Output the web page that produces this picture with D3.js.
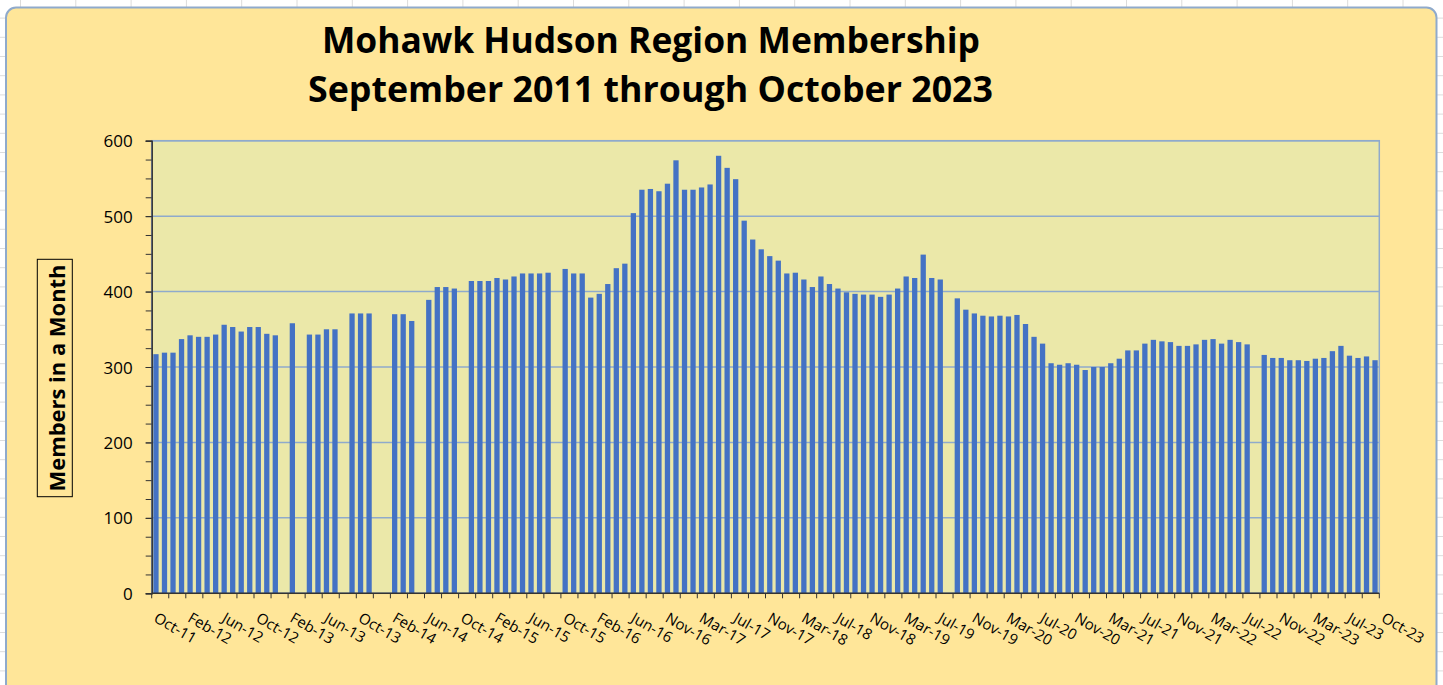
<!DOCTYPE html>
<meta charset="utf-8">
<style>
body, html {
  margin: 0;
  padding: 0;
  background: #fff;
}
text {
  font-family: "Open Sans", "Liberation Sans", sans-serif;
  fill: #000;
}
.title {
  font-weight: 700;
  font-size: 36px;
  text-anchor: middle;
}
.tick-y {
  font-size: 17px;
}
.tick-x {
  font-size: 15px;
}
</style>
<div id="chart"></div>
<script src="https://d3js.org/d3.v7.min.js"></script>
<script>
// monthly membership, one bar per category (null = month with no figure)
const members = [
  317, 319, 319, 337, 342, 340, 340, 343, 356, 353,
  347, 353, 353, 344, 342, null, 358, null, 343, 343,
  350, 350, null, 371, 371, 371, null, null, 370, 370,
  361, null, 389, 406, 406, 404, null, 414, 414, 414,
  418, 416, 420, 424, 424, 424, 425, null, 430, 424,
  424, 392, 397, 410, 431, 437, 504, 535, 536, 533,
  543, 574, 535, 535, 538, 542, 580, 564, 549, 494,
  469, 456, 447, 441, 424, 425, 416, 406, 420, 410,
  404, 399, 397, 396, 396, 393, 396, 404, 420, 418,
  449, 418, 416, null, 391, 376, 371, 368, 367, 368,
  367, 369, 357, 340, 331, 305, 303, 305, 303, 296,
  300, 300, 305, 311, 322, 322, 331, 336, 334, 333,
  328, 328, 330, 336, 337, 331, 336, 333, 330, null,
  316, 312, 312, 309, 309, 308, 311, 312, 321, 328,
  315, 312, 314, 309
];

// category labels, shown every 4th category
const tickLabels = [
  "Oct-11", "Feb-12", "Jun-12", "Oct-12", "Feb-13", "Jun-13", "Oct-13",
  "Feb-14", "Jun-14", "Oct-14", "Feb-15", "Jun-15", "Oct-15", "Feb-16",
  "Jun-16", "Nov-16", "Mar-17", "Jul-17", "Nov-17", "Mar-18", "Jul-18",
  "Nov-18", "Mar-19", "Jul-19", "Nov-19", "Mar-20", "Jul-20", "Nov-20",
  "Mar-21", "Jul-21", "Nov-21", "Mar-22", "Jul-22", "Nov-22", "Mar-23",
  "Jul-23", "Oct-23"
];
const labelEvery = 4;

const yTicks = [0, 100, 200, 300, 400, 500, 600];
const titleLines = ["Mohawk Hudson Region Membership", "September 2011 through October 2023"];
const yTitle = "Members in a Month";

const width = 1443, height = 685;
const plot = { left: 151.7, right: 1379.3, top: 140.7, bottom: 593.3 };

const svg = d3.select("#chart").append("svg")
  .attr("width", width)
  .attr("height", height);

// spreadsheet grid behind the chart object
const sheet = svg.append("g").attr("stroke", "#dcdcdc").attr("stroke-width", 1);
for (let y = 18.1; y < height; y += 19.2) {
  sheet.append("line").attr("x1", 0).attr("x2", width).attr("y1", y).attr("y2", y);
}
for (let x = 1403 - 55.3 * 25; x < width; x += 55.3) {
  sheet.append("line").attr("x1", x).attr("x2", x).attr("y1", 0).attr("y2", height);
}

// chart area
svg.append("rect")
  .attr("x", 6).attr("y", 7.5)
  .attr("width", 1430.5).attr("height", 720)
  .attr("rx", 10)
  .attr("fill", "#ffe699")
  .attr("stroke", "#8faacc")
  .attr("stroke-width", 2);

// titles
svg.selectAll(".title")
  .data(titleLines)
  .enter().append("text")
  .attr("class", "title")
  .attr("x", (d, i) => i ? 650.5 : 651)
  .attr("y", (d, i) => i ? 101.7 : 52.7)
  .attr("textLength", (d, i) => i ? 685 : 658)
  .attr("lengthAdjust", "spacingAndGlyphs")
  .text(d => d);

// scales
const n = members.length;
const x = d3.scaleBand()
  .domain(d3.range(n))
  .range([plot.left, plot.right])
  .paddingInner(0.38)
  .paddingOuter(0.19);
const edge = d3.scaleLinear().domain([0, n]).range([plot.left, plot.right]);
const y = d3.scaleLinear().domain([0, 600]).range([plot.bottom, plot.top]);

// plot area
svg.append("rect")
  .attr("x", plot.left).attr("y", plot.top)
  .attr("width", plot.right - plot.left)
  .attr("height", plot.bottom - plot.top)
  .attr("fill", "#ebe8a9")
  .attr("stroke", "#8faacc")
  .attr("stroke-width", 1.5);

// gridlines
svg.append("g")
  .selectAll("line")
  .data(yTicks.filter(d => d > 0))
  .enter().append("line")
  .attr("x1", plot.left).attr("x2", plot.right)
  .attr("y1", d => y(d)).attr("y2", d => y(d))
  .attr("stroke", "#8faacc")
  .attr("stroke-width", 1.5);

// bars
svg.append("g")
  .selectAll("rect")
  .data(members.map((v, i) => ({ i, v })).filter(d => d.v != null))
  .enter().append("rect")
  .attr("x", d => x(d.i))
  .attr("width", x.bandwidth())
  .attr("y", d => y(d.v))
  .attr("height", d => y(0) - y(d.v))
  .attr("fill", "#4472c4");

// y axis: minor ticks, then major ticks with labels
svg.append("g")
  .attr("transform", `translate(${plot.left},0)`)
  .call(d3.axisLeft(y).tickValues(d3.range(0, 601, 25)).tickSize(6).tickFormat(""))
  .call(g => g.select(".domain").remove())
  .selectAll("line").attr("stroke", "#333");

const yAxis = svg.append("g")
  .attr("transform", `translate(${plot.left},0)`)
  .attr("font-size", null)
  .attr("font-family", null)
  .call(d3.axisLeft(y).tickValues(yTicks).tickSize(6).tickPadding(13));
yAxis.attr("font-size", null).attr("font-family", null);
yAxis.select(".domain").attr("stroke", "#333").attr("stroke-width", 1.5);
yAxis.selectAll("line").attr("stroke", "#333");
yAxis.selectAll("text").attr("class", "tick-y").attr("dy", "0.36em");

// x axis: ticks every 2 categories, labels every 4
const xAxis = svg.append("g");
xAxis.append("line")
  .attr("x1", plot.left).attr("x2", plot.right)
  .attr("y1", plot.bottom).attr("y2", plot.bottom)
  .attr("stroke", "#333").attr("stroke-width", 1.5);
xAxis.selectAll(".xt")
  .data(d3.range(0, n + 1, 2))
  .enter().append("line")
  .attr("x1", d => edge(d)).attr("x2", d => edge(d))
  .attr("y1", plot.bottom).attr("y2", plot.bottom + 5)
  .attr("stroke", "#333");
xAxis.selectAll("text")
  .data(tickLabels)
  .enter().append("text")
  .attr("class", "tick-x")
  .attr("transform", (d, k) => `translate(${edge(k * labelEvery) + 1},621) rotate(30)`)
  .text(d => d);

// y axis title in a box
svg.append("rect")
  .attr("x", 37.3).attr("y", 259.3)
  .attr("width", 35).attr("height", 237.4)
  .attr("fill", "none")
  .attr("stroke", "#000")
  .attr("stroke-width", 1);
svg.append("text")
  .attr("transform", "translate(65,378) rotate(-90)")
  .attr("text-anchor", "middle")
  .attr("font-weight", 700)
  .attr("font-size", 22)
  .attr("textLength", 227)
  .attr("lengthAdjust", "spacingAndGlyphs")
  .text(yTitle);
</script>
